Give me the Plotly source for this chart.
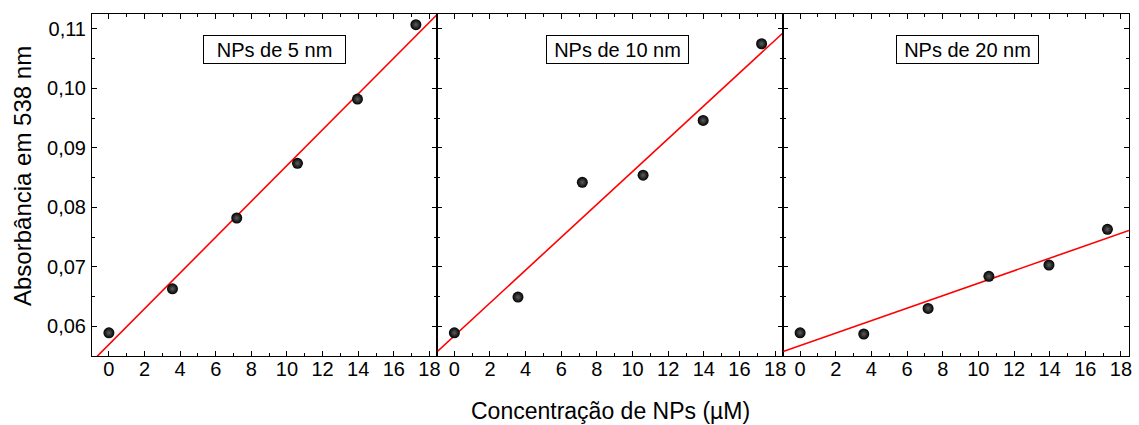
import numpy as np
import plotly.graph_objects as go

# Concentration of nanoparticles (µM) and absorbance at 538 nm for each size
conc = [0, 3.57, 7.18, 10.59, 13.96, 17.24]
abs_5nm = [0.0589, 0.0663, 0.0782, 0.0874, 0.0982, 0.1107]
abs_10nm = [0.0589, 0.0649, 0.0842, 0.0854, 0.0946, 0.1075]
abs_20nm = [0.0589, 0.0587, 0.0630, 0.0684, 0.0703, 0.0763]
panel_labels = ["NPs de 5 nm", "NPs de 10 nm", "NPs de 20 nm"]
x_ticks = list(range(0, 19, 2))
y_ticks = [0.06, 0.07, 0.08, 0.09, 0.10, 0.11]

X_RANGE = [-0.95, 18.45]
Y_RANGE = [0.055, 0.1125]
FONT = "Arial, Liberation Sans, sans-serif"

series = [abs_5nm, abs_10nm, abs_20nm]
domains = [[0.0, 0.3331], [0.3331, 0.6665], [0.6665, 1.0]]
label_x = [0.527, 0.52, 0.532]

fig = go.Figure()

for i, ys in enumerate(series):
    xa = "x" if i == 0 else f"x{i + 1}"
    ya = "y" if i == 0 else f"y{i + 1}"
    # least-squares linear fit across the full axis span
    slope, intercept = np.polyfit(conc, ys, 1)
    fx = np.array(X_RANGE)
    fig.add_trace(go.Scatter(
        x=fx, y=slope * fx + intercept, mode="lines",
        line=dict(color="#ff0000", width=1.6),
        xaxis=xa, yaxis=ya, showlegend=False, hoverinfo="skip",
    ))
    fig.add_trace(go.Scatter(
        x=conc, y=ys, mode="markers",
        marker=dict(size=11, color="#000000",
                    gradient=dict(type="radial", color="#5e5e5e"),
                    line=dict(width=0)),
        xaxis=xa, yaxis=ya, showlegend=False,
    ))

axis_common = dict(
    showline=True, linecolor="#000000", linewidth=1, mirror="allticks",
    ticks="inside", ticklen=5, tickwidth=1, tickcolor="#000000",
    showgrid=False, zeroline=False,
    tickfont=dict(family=FONT, size=20, color="#000000"),
)

layout = dict(
    width=1139, height=425,
    margin=dict(l=92, r=7, t=14, b=69),
    paper_bgcolor="white", plot_bgcolor="white",
    separators=",.",
    font=dict(family=FONT, color="#000000"),
    showlegend=False,
)

for i in range(3):
    suffix = "" if i == 0 else str(i + 1)
    layout[f"xaxis{suffix}"] = dict(
        axis_common, domain=domains[i], range=X_RANGE, anchor=f"y{suffix}",
        tickmode="array", tickvals=x_ticks, ticktext=[str(t) for t in x_ticks],
        ticklabelstandoff=-5,
        minor=dict(ticks="inside", ticklen=3, dtick=1, tickcolor="#000000"),
    )
    layout[f"yaxis{suffix}"] = dict(
        axis_common, domain=[0, 1], range=Y_RANGE, anchor=f"x{suffix}",
        tickmode="array", tickvals=y_ticks,
        ticktext=[f"{v:.2f}".replace(".", ",") for v in y_ticks],
        showticklabels=(i == 0), ticklabelstandoff=1,
        minor=dict(ticks="inside", ticklen=3, dtick=0.005, tick0=0.055,
                   tickcolor="#000000"),
    )

annotations = []
for i, text in enumerate(panel_labels):
    suffix = "" if i == 0 else str(i + 1)
    annotations.append(dict(
        text=text, xref=f"x{suffix} domain", yref="paper",
        x=label_x[i], y=0.895, xanchor="center", yanchor="middle",
        showarrow=False, font=dict(family=FONT, size=20, color="#000000"),
        bordercolor="#000000", borderwidth=1, borderpad=2,
        bgcolor="white", width=137, height=23,
    ))

annotations.append(dict(
    text="Concentração de NPs (µM)", xref="paper", yref="paper",
    x=0.5, y=-0.162, xanchor="center", yanchor="middle", showarrow=False,
    font=dict(family=FONT, size=23, color="#000000"),
))
annotations.append(dict(
    text="Absorbância em 538 nm", xref="paper", yref="paper",
    x=-0.0676, y=0.526, xanchor="center", yanchor="middle", showarrow=False,
    textangle=-90, font=dict(family=FONT, size=24, color="#000000"),
))
layout["annotations"] = annotations

fig.update_layout(**layout)
fig.write_html("out.html")
